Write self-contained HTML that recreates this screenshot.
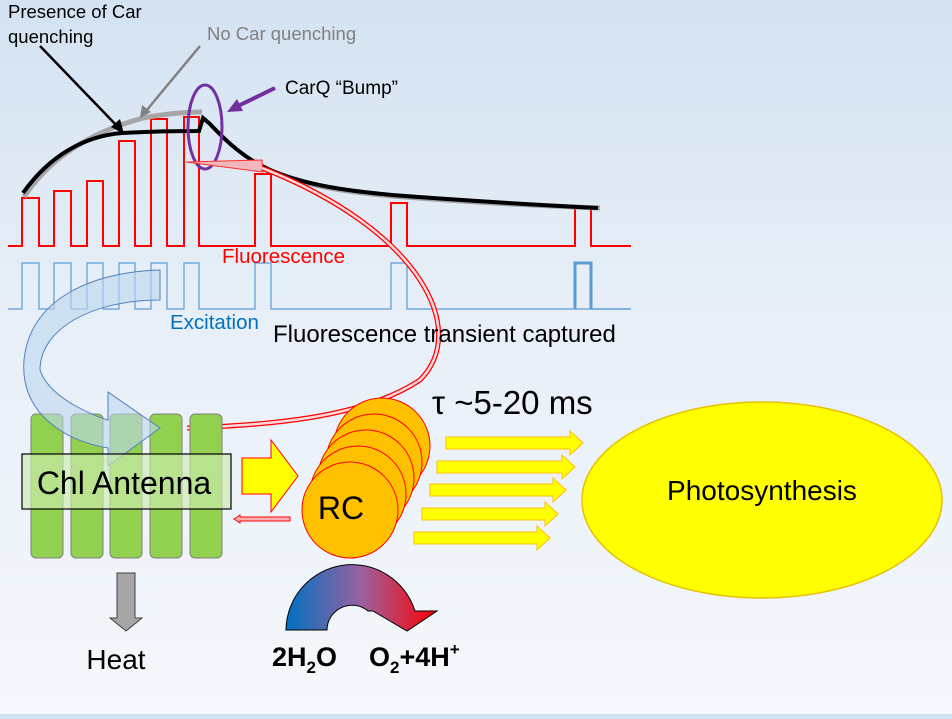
<!DOCTYPE html>
<html><head><meta charset="utf-8"><style>
html,body{margin:0;padding:0}
body{width:952px;height:714px;overflow:hidden;background:linear-gradient(#d3e2f1 0%,#e6eef7 40%,#f5f8fc 100%);font-family:"Liberation Sans",sans-serif}
</style></head><body>
<svg width="952" height="714" viewBox="0 0 952 714" xmlns="http://www.w3.org/2000/svg" font-family="Liberation Sans, DejaVu Sans, sans-serif">
<defs>
<linearGradient id="wg" x1="0" x2="1" y1="0" y2="0"><stop offset="0" stop-color="#0070c0"/><stop offset="0.5" stop-color="#9a62a0"/><stop offset="1" stop-color="#ff0000"/></linearGradient>
</defs>
<path d="M8,309 H22 V263 H39 V309 H54 V263 H71 V309 H87 V263 H103 V309 H119 V263 H135 V309 H151 V263 H167 V309 H184 V263 H199 V309 H255 V263 H271 V309 H391 V263 H407 V309 H631" fill="none" stroke="#5b9bd5" stroke-width="1.2"/>
<path d="M575,309 V263 H591 V309" fill="none" stroke="#5b9bd5" stroke-width="3"/>
<line x1="591" y1="309" x2="631" y2="309" stroke="#5b9bd5" stroke-width="1.2"/>
<path d="M8,246 H22 V198 H39 V246 H54 V191 H71 V246 H87 V181 H103 V246 H119 V141 H135 V246 H151 V119 H167 V246 H184 V117 H199 V246 H255 V174 H271 V246 H391 V203 H407 V246 H575 V208 H591 V246 H631" fill="none" stroke="#ff0000" stroke-width="2"/>
<path d="M24,197 C45,165 80,135 143,118 C170,113 190,112 202,112" fill="none" stroke="#a6a6a6" stroke-width="5"/>
<path d="M276,173 C310,187 350,192 392,196 C470,202 540,206 600,208" fill="none" stroke="#a0a0a0" stroke-width="5"/>
<path d="M23,193 C50,155 85,136 122,133 C160,131 190,131 199,131 L203,118 L210,124 C225,140 245,160 275,172 C310,186 350,191 392,195 C470,201 540,205 598,208" fill="none" stroke="#000" stroke-width="4"/>
<line x1="40" y1="46" x2="118" y2="127" stroke="#000" stroke-width="2.5"/>
<polygon points="124,134 111,127 120,119" fill="#000"/>
<line x1="200" y1="46" x2="146" y2="111" stroke="#808080" stroke-width="2.5"/>
<polygon points="140,118 142,105 151,112" fill="#808080"/>
<ellipse cx="205" cy="127" rx="17" ry="42" fill="none" stroke="#7030a0" stroke-width="3"/>
<line x1="275" y1="88" x2="236" y2="107" stroke="#7030a0" stroke-width="4"/>
<polygon points="227,112 237,99 243,111" fill="#7030a0"/>
<polygon points="186,162 262,160 263,172" fill="#f4b6be" stroke="#ff3030" stroke-width="1"/>
<path d="M262,168 C420,230 470,330 420,380 C360,420 260,425 187,428" fill="none" stroke="#ff0000" stroke-width="5"/>
<path d="M262,168 C420,230 470,330 420,380 C360,420 260,425 187,428" fill="none" stroke="#fbd8dc" stroke-width="2.5"/>
<g fill="#92d050" stroke="#808080" stroke-width="1">
<rect x="31" y="414" width="32" height="144" rx="5"/>
<rect x="71" y="414" width="32" height="144" rx="5"/>
<rect x="110" y="414" width="32" height="144" rx="5"/>
<rect x="150" y="414" width="32" height="144" rx="5"/>
<rect x="190" y="414" width="32" height="144" rx="5"/>
</g>
<path d="M160,270 L160,300 C90,300 40,330 40,370 C50,400 100,418 108,420 L108,392 L160,428 L108,466 L108,448 C60,440 20,410 24,360 C30,300 90,272 160,270 Z" fill="rgba(189,215,238,0.6)" stroke="#4f81bd" stroke-width="1"/>
<rect x="22" y="454" width="209" height="55" fill="rgba(205,235,175,0.65)" stroke="#000" stroke-width="1.2"/>
<text x="124" y="494" font-size="32" text-anchor="middle">Chl Antenna</text>
<polygon points="242,458 271,458 271,440 298,476 271,512 271,494 242,494" fill="#ffff00" stroke="#ff0000" stroke-width="1"/>
<polygon points="290,517 240,517 240,515 234,519 240,523 240,521 290,521" fill="#f8b0b0" stroke="#ff0000" stroke-width="1"/>
<g fill="#ffc000" stroke="#ff0000" stroke-width="1">
<circle cx="382" cy="446" r="48"/>
<circle cx="374" cy="462" r="48"/>
<circle cx="366" cy="478" r="48"/>
<circle cx="358" cy="494" r="48"/>
<circle cx="350" cy="510" r="48"/>
</g>
<text x="341" y="519" font-size="32" text-anchor="middle">RC</text>
<text x="432" y="414" font-size="33">τ ~5-20 ms</text>
<g fill="#ffff00" stroke="#ffc000" stroke-width="1">
<polygon points="446,437 570,437 570,431 583,443 570,455 570,449 446,449"/>
<polygon points="437,461 562,461 562,455 575,467 562,479 562,473 437,473"/>
<polygon points="430,484 553,484 553,478 566,490 553,502 553,496 430,496"/>
<polygon points="422,508 545,508 545,502 558,514 545,526 545,520 422,520"/>
<polygon points="414,532 537,532 537,526 550,538 537,550 537,544 414,544"/>
</g>
<ellipse cx="762" cy="500" rx="180" ry="98" fill="#ffff00" stroke="#e6c200" stroke-width="1.5"/>
<text x="762" y="500" font-size="28" text-anchor="middle">Photosynthesis</text>
<polygon points="117,573 135,573 135,618 142,618 126,631 110,618 117,618" fill="#a6a6a6" stroke="#404040" stroke-width="1"/>
<text x="116" y="669" font-size="28" text-anchor="middle">Heat</text>
<path d="M286,630 A66,66 0 0 1 415,611 L437,611 L407,631 L373,611 L368,611 A25,25 0 0 0 327,630 Z" fill="url(#wg)" stroke="#000" stroke-width="1"/>
<text x="272" y="666" font-size="27" font-weight="bold">2H<tspan font-size="17" dy="7">2</tspan><tspan dy="-7">O</tspan></text>
<text x="369" y="666" font-size="27" font-weight="bold">O<tspan font-size="17" dy="7">2</tspan><tspan dy="-7">+4H</tspan><tspan font-size="17" dy="-11">+</tspan></text>
<text x="8" y="18" font-size="18.5">Presence of Car</text>
<text x="8" y="43" font-size="18.5">quenching</text>
<text x="207" y="40" font-size="18.5" fill="#808080">No Car quenching</text>
<text x="285" y="94" font-size="19">CarQ “Bump”</text>
<text x="222" y="263" font-size="20.5" fill="#ff0000">Fluorescence</text>
<text x="170" y="329" font-size="20.5" fill="#0070c0">Excitation</text>
<text x="273" y="342" font-size="24">Fluorescence transient captured</text>
</svg>
</body></html>
